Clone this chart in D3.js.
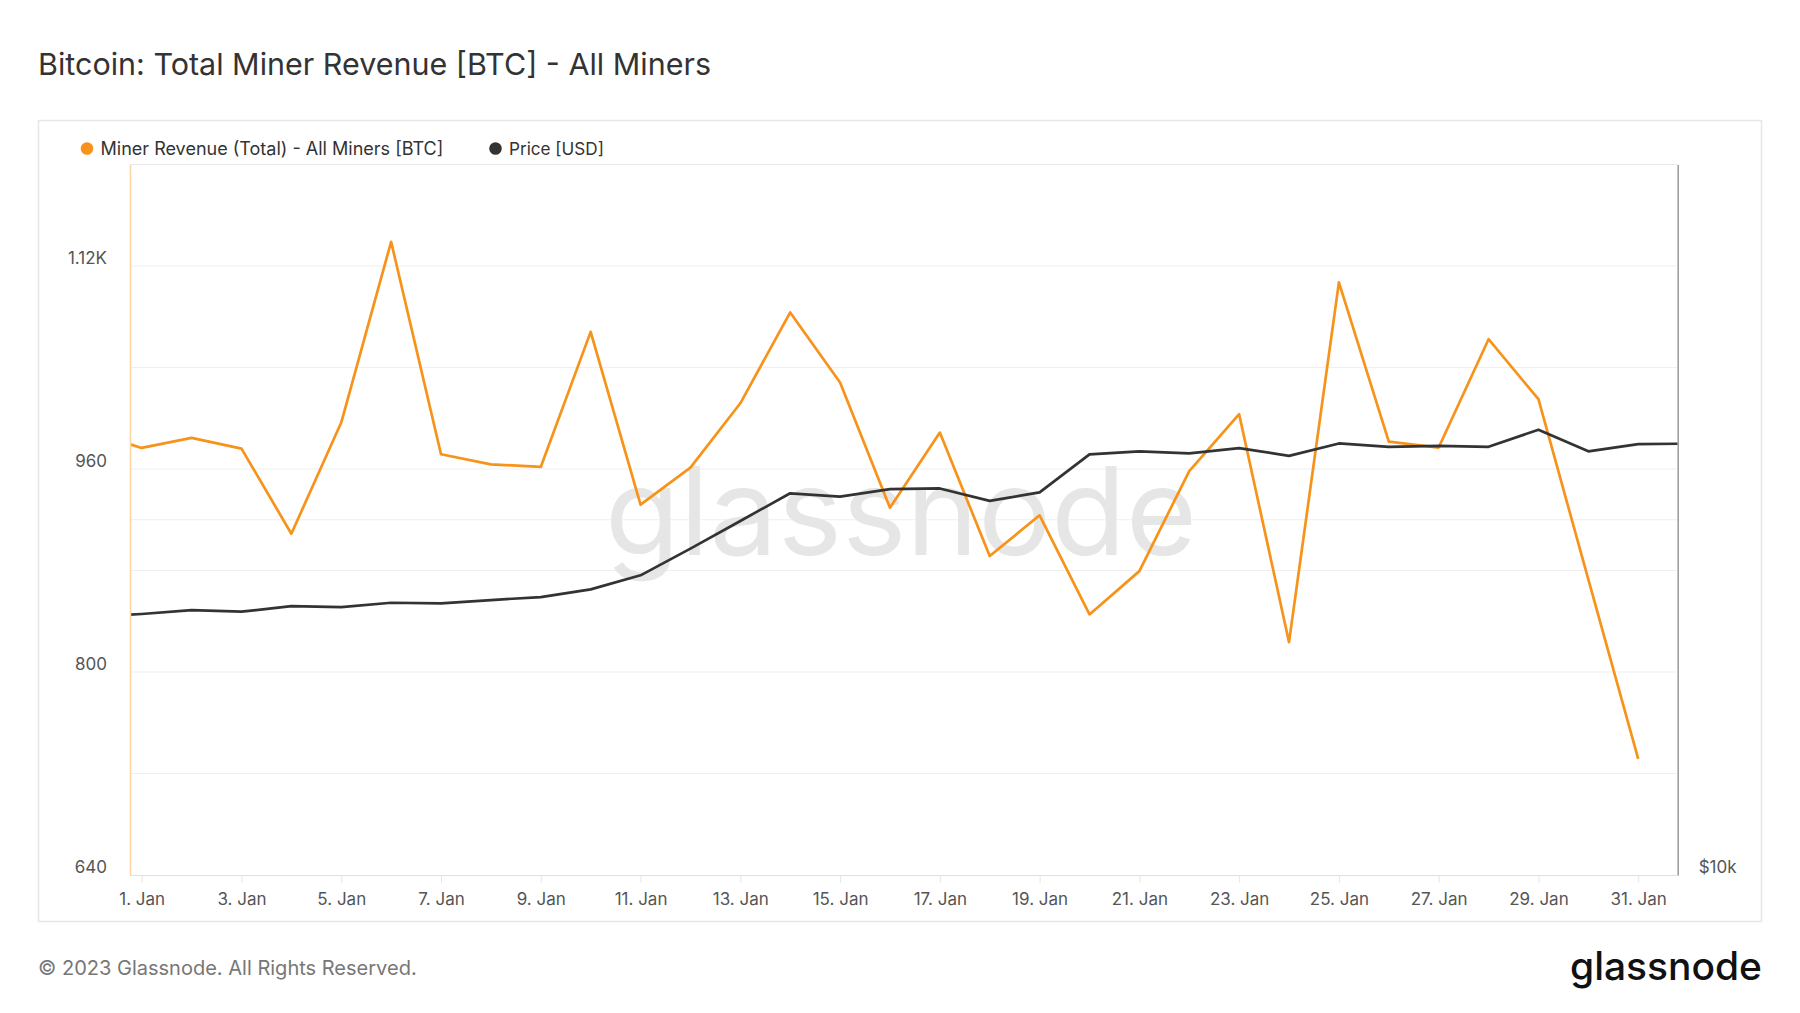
<!DOCTYPE html>
<html>
<head>
<meta charset="utf-8">
<script src="https://cdn.jsdelivr.net/npm/d3@7"></script>
<style>
  html, body { margin: 0; padding: 0; background: #fff; }
  svg { display: block; font-family: Inter, "Noto Sans", sans-serif; }
</style>
</head>
<body>
<svg id="chart" width="1800" height="1013"></svg>
<script>
// ---------------- DATA ----------------
const dates = [
  "2022-12-31","2023-01-01","2023-01-02","2023-01-03","2023-01-04","2023-01-05","2023-01-06",
  "2023-01-07","2023-01-08","2023-01-09","2023-01-10","2023-01-11","2023-01-12","2023-01-13",
  "2023-01-14","2023-01-15","2023-01-16","2023-01-17","2023-01-18","2023-01-19","2023-01-20",
  "2023-01-21","2023-01-22","2023-01-23","2023-01-24","2023-01-25","2023-01-26","2023-01-27",
  "2023-01-28","2023-01-29","2023-01-30","2023-01-31","2023-02-01"
];
// Miner revenue [BTC], Dec 31 .. Jan 31
const minerRevenue = [
  989, 976.6, 984.5, 976.1, 909.0, 996.6, 1139.1, 971.6, 963.7, 961.6, 1068.1, 931.9,
  961.1, 1011.8, 1083.4, 1028.2, 929.5, 988.7, 891.4, 923.5, 845.4, 879.5, 958.4,
  1003.2, 823.5, 1107.1, 981.6, 976.9, 1062.3, 1015.0, 873.0, 731.5
];
// Price [USD], Dec 31 .. Feb 1
const price = [
  16550, 16640, 16766, 16716, 16897, 16866, 17010, 16988, 17100, 17200, 17460, 17945,
  18905, 19953, 21060, 20925, 21230, 21260, 20750, 21095, 22720, 22855, 22765, 23000,
  22655, 23210, 23060, 23100, 23060, 23840, 22855, 23180, 23200
];
const xDomain = ["2022-12-31T18:22:00Z", "2023-01-31T19:00:00Z"];
const tickDates = ["2023-01-01","2023-01-03","2023-01-05","2023-01-07","2023-01-09","2023-01-11",
  "2023-01-13","2023-01-15","2023-01-17","2023-01-19","2023-01-21","2023-01-23","2023-01-25",
  "2023-01-27","2023-01-29","2023-01-31"];
const tickLabels = ["1. Jan","3. Jan","5. Jan","7. Jan","9. Jan","11. Jan","13. Jan","15. Jan",
  "17. Jan","19. Jan","21. Jan","23. Jan","25. Jan","27. Jan","29. Jan","31. Jan"];
const leftDomain = [640, 1200];
const leftTicks = [640, 800, 960, 1120];
const leftTickLabels = ["640", "800", "960", "1.12K"];
const leftGrid = [720, 800, 880, 960, 1040, 1120];
const rightDomain = [10000, 40000];
const rightTicks = [10000];
const rightTickLabels = ["$10k"];
const rightGrid = [20000];
const seriesNames = ["Miner Revenue (Total) - All Miners [BTC]", "Price [USD]"];
const seriesColors = ["#f7931a", "#333333"];

// ---------------- LAYOUT ----------------
const svg = d3.select("#chart");
const P = { left: 130, right: 1677.7, top: 164.5, bottom: 875 };
const parse = s => new Date(s.length === 10 ? s + "T00:00:00Z" : s);

function fit(sel, w) {
  const l = sel.node().getComputedTextLength();
  const fs = parseFloat(sel.attr("font-size"));
  sel.attr("font-size", (fs * w / l).toFixed(2));
  return sel;
}

const x = d3.scaleUtc().domain(xDomain.map(parse)).range([P.left, P.right]);
const yL = d3.scaleLinear().domain(leftDomain).range([P.bottom, P.top]);
const yR = d3.scaleLog().domain(rightDomain).range([P.bottom, P.top]);

// outer box
svg.append("rect").attr("x", 38.5).attr("y", 120.5).attr("width", 1723).attr("height", 801)
  .attr("fill", "none").attr("stroke", "#e6e6e6").attr("stroke-width", 1.5);

// title
fit(svg.append("text").attr("x", 38).attr("y", 75).attr("font-size", 29).attr("fill", "#333")
  .attr("font-weight", 400)
  .text("Bitcoin: Total Miner Revenue [BTC] - All Miners"), 673);

// legend
const legX = [87, 495.5];
const legW = [343, 95];
seriesNames.forEach((n, i) => {
  svg.append("circle").attr("cx", legX[i]).attr("cy", 148.5).attr("r", 6.3).attr("fill", seriesColors[i]);
  fit(svg.append("text").attr("x", legX[i] + 13.5).attr("y", 155).attr("font-size", 18)
    .attr("fill", "#333").text(n), legW[i]);
});

// gridlines
svg.append("g").selectAll("line").data(leftGrid).join("line")
  .attr("x1", P.left).attr("x2", P.right).attr("y1", d => yL(d)).attr("y2", d => yL(d))
  .attr("stroke", "#efefef").attr("stroke-width", 1);
svg.append("g").selectAll("line").data(rightGrid).join("line")
  .attr("x1", P.left).attr("x2", P.right).attr("y1", d => yR(d)).attr("y2", d => yR(d))
  .attr("stroke", "#efefef").attr("stroke-width", 1);
// top border of plot
svg.append("line").attr("x1", P.left).attr("x2", P.right).attr("y1", P.top).attr("y2", P.top)
  .attr("stroke", "#e8e8e8").attr("stroke-width", 1);

// watermark
const wm = svg.append("text").attr("x", 901).attr("y", 555).attr("text-anchor", "middle")
  .attr("font-size", 120).attr("font-weight", 400).attr("fill", "#e6e6e6").text("glassnode");
fit(wm, 592);

// clip
svg.append("clipPath").attr("id", "clip").append("rect")
  .attr("x", P.left).attr("y", P.top - 5).attr("width", P.right - P.left).attr("height", P.bottom - P.top + 10);

const revData = minerRevenue.map((v, i) => ({ d: parse(dates[i]), v }));
const priceData = price.map((v, i) => ({ d: parse(dates[i]), v }));

const g = svg.append("g").attr("clip-path", "url(#clip)");
g.append("path").datum(revData)
  .attr("d", d3.line().x(p => x(p.d)).y(p => yL(p.v)))
  .attr("fill", "none").attr("stroke", seriesColors[0]).attr("stroke-width", 2.7)
  .attr("stroke-linejoin", "round");
g.append("path").datum(priceData)
  .attr("d", d3.line().x(p => x(p.d)).y(p => yR(p.v)))
  .attr("fill", "none").attr("stroke", seriesColors[1]).attr("stroke-width", 2.7)
  .attr("stroke-linejoin", "round");

// x axis
const xa = svg.append("g").attr("transform", `translate(0,${P.bottom})`)
  .call(d3.axisBottom(x).tickValues(tickDates.map(parse)).tickFormat((d, i) => tickLabels[i])
    .tickSize(8).tickPadding(10));
xa.select(".domain").attr("stroke", "#e0e0e0").attr("stroke-width", 1.2)
  .attr("d", `M${P.left},0.5H${P.right}`);
xa.selectAll(".tick line").attr("stroke", "#e6e6e6");
xa.selectAll(".tick text").attr("font-size", 17).attr("fill", "#555").attr("font-family", "Inter");

// left axis
const la = svg.append("g").attr("transform", `translate(${P.left},0)`)
  .call(d3.axisLeft(yL).tickValues(leftTicks).tickFormat((d, i) => leftTickLabels[i]).tickSize(0).tickPadding(23));
la.select(".domain").attr("stroke", "#fcd3a2").attr("stroke-width", 1.5);
la.selectAll(".tick text").attr("font-size", 17).attr("fill", "#555").attr("font-family", "Inter").attr("dy", -3);

// right axis
const ra = svg.append("g").attr("transform", `translate(${P.right},0)`)
  .call(d3.axisRight(yR).tickValues(rightTicks).tickFormat((d, i) => rightTickLabels[i]).tickSize(0).tickPadding(21));
ra.select(".domain").attr("stroke", "#999").attr("stroke-width", 1.5);
ra.selectAll(".tick text").attr("font-size", 17).attr("fill", "#555").attr("font-family", "Inter").attr("dy", -2.3);

// footer
fit(svg.append("text").attr("x", 38).attr("y", 975).attr("font-size", 20).attr("fill", "#777")
  .text("© 2023 Glassnode. All Rights Reserved."), 379);
const logo = svg.append("text").attr("x", 1762).attr("y", 980).attr("text-anchor", "end")
  .attr("font-size", 38).attr("font-weight", 500).attr("fill", "#111").text("glassnode");
fit(logo, 192);
</script>
</body>
</html>
